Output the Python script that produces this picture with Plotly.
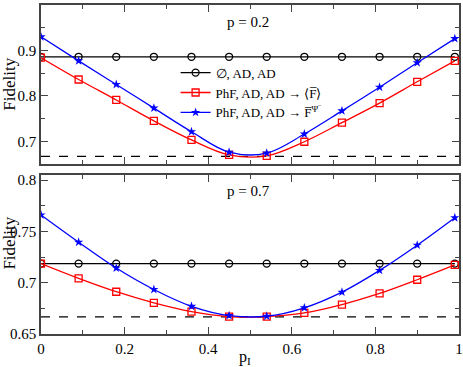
import plotly.graph_objects as go
from plotly.subplots import make_subplots

# sample points of p_I (markers)
p_i = [0, 0.09, 0.18, 0.27, 0.36, 0.45, 0.54, 0.63, 0.72, 0.81, 0.90, 0.99]

# p = 0.2 panel
black_02 = [0.886] * 12
red_02 = [0.884, 0.836, 0.791, 0.745, 0.703, 0.670, 0.668, 0.699, 0.741, 0.784, 0.831, 0.877]
blue_02 = [0.930, 0.877, 0.825, 0.773, 0.721, 0.676, 0.674, 0.716, 0.767, 0.819, 0.873, 0.926]

# p = 0.7 panel
black_07 = [0.7186] * 12
red_07 = [0.7186, 0.7042, 0.6912, 0.6804, 0.6719, 0.6670, 0.6670, 0.6706, 0.6787, 0.6895, 0.7029, 0.7173]
blue_07 = [0.7660, 0.7395, 0.7143, 0.6934, 0.6770, 0.6680, 0.6673, 0.6755, 0.6908, 0.7120, 0.7366, 0.7633]

# classical limit
limit_x = [0, 1]
limit_y = [0.6667, 0.6667]

x_ticks = [0, 0.2, 0.4, 0.6, 0.8, 1]
x_labels = ["0", "0.2", "0.4", "0.6", "0.8", "1"]

names = ["∅, AD, AD",
         "PhF, AD, AD → ⟨F̅⟩",
         "PhF, AD, AD → F̅<sup>Ψ<sup>−</sup></sup>"]

FONT = "Liberation Serif"
AX = "#444"

fig = make_subplots(rows=2, cols=1, vertical_spacing=0.0334)

panels = [(black_02, red_02, blue_02), (black_07, red_07, blue_07)]
for row, (bk, rd, bl) in enumerate(panels, start=1):
    show = row == 1
    fig.add_trace(go.Scatter(x=limit_x, y=limit_y, mode="lines",
                             line=dict(color="black", width=1.3, dash="dash"),
                             showlegend=False), row=row, col=1)
    fig.add_trace(go.Scatter(x=p_i, y=bk, mode="lines+markers", name=names[0],
                             line=dict(color="black", width=1.3),
                             marker=dict(symbol="circle-open", size=7, color="black",
                                         line=dict(width=1.3)),
                             showlegend=show), row=row, col=1)
    fig.add_trace(go.Scatter(x=p_i, y=rd, mode="lines+markers", name=names[1],
                             line=dict(color="red", width=1.3, shape="spline"),
                             marker=dict(symbol="square-open", size=7, color="red",
                                         line=dict(width=1.3)),
                             showlegend=show), row=row, col=1)
    fig.add_trace(go.Scatter(x=p_i, y=bl, mode="lines+markers", name=names[2],
                             line=dict(color="blue", width=1.3, shape="spline"),
                             marker=dict(symbol="star", size=7, color="blue"),
                             showlegend=show), row=row, col=1)

axis_style = dict(showline=True, linecolor=AX, linewidth=1.5, mirror="ticks",
                  ticks="inside", ticklen=7, tickcolor=AX, showgrid=False,
                  zeroline=False, automargin=False,
                  tickfont=dict(family=FONT, size=15, color="black"))

fig.update_xaxes(range=[0, 1], autorange=False, tickvals=x_ticks, ticktext=x_labels,
                 minor=dict(dtick=0.1, ticks="inside", ticklen=4, tickcolor=AX),
                 **axis_style)
fig.update_xaxes(showticklabels=False, row=1, col=1)

fig.update_yaxes(**axis_style)
fig.update_yaxes(range=[0.65, 1], autorange=False, tickvals=[0.7, 0.8, 0.9, 1],
                 ticktext=["0.7", "0.8", "0.9", "1"],
                 minor=dict(dtick=0.05, ticks="inside", ticklen=4, tickcolor=AX),
                 row=1, col=1)
fig.update_yaxes(range=[0.65, 0.805], autorange=False, tickvals=[0.65, 0.7, 0.75, 0.8],
                 ticktext=["0.65", "0.7", "0.75", "0.8"],
                 minor=dict(dtick=0.025, ticks="inside", ticklen=4, tickcolor=AX),
                 row=2, col=1)

title_font = dict(family=FONT, size=17, color="black")
fig.add_annotation(text="Fidelity", xref="x domain", yref="y domain", x=-0.076, y=0.5,
                   xanchor="center", yanchor="middle",
                   textangle=-90, showarrow=False, font=title_font)
fig.add_annotation(text="Fidelity", xref="x2 domain", yref="y2 domain", x=-0.076, y=0.57,
                   xanchor="center", yanchor="middle",
                   textangle=-90, showarrow=False, font=title_font)
fig.add_annotation(text="p<sub>I</sub>", xref="x2 domain", yref="y2 domain", x=0.488, y=-0.15,
                   xanchor="center", yanchor="middle", showarrow=False,
                   font=dict(family=FONT, size=16, color="black"))

fig.add_annotation(text="p = 0.2", xref="x", yref="y", x=0.44, y=0.962, xanchor="left",
                   showarrow=False, font=dict(family=FONT, size=15, color="black"))
fig.add_annotation(text="p = 0.7", xref="x2", yref="y2", x=0.44, y=0.789, xanchor="left",
                   showarrow=False, font=dict(family=FONT, size=15, color="black"))

fig.update_layout(
    width=463, height=367,
    margin=dict(l=41, r=4, t=5, b=33),
    plot_bgcolor="white", paper_bgcolor="white",
    font=dict(family=FONT, color="black"),
    legend=dict(x=0.322, y=0.84, xanchor="left", yanchor="top", bgcolor="rgba(0,0,0,0)",
                font=dict(family=FONT, size=13, color="black"), tracegroupgap=0,
                itemwidth=30),
)

fig.write_html("out.html", config={"displayModeBar": False},
               post_script="document.body.style.margin='0';")
